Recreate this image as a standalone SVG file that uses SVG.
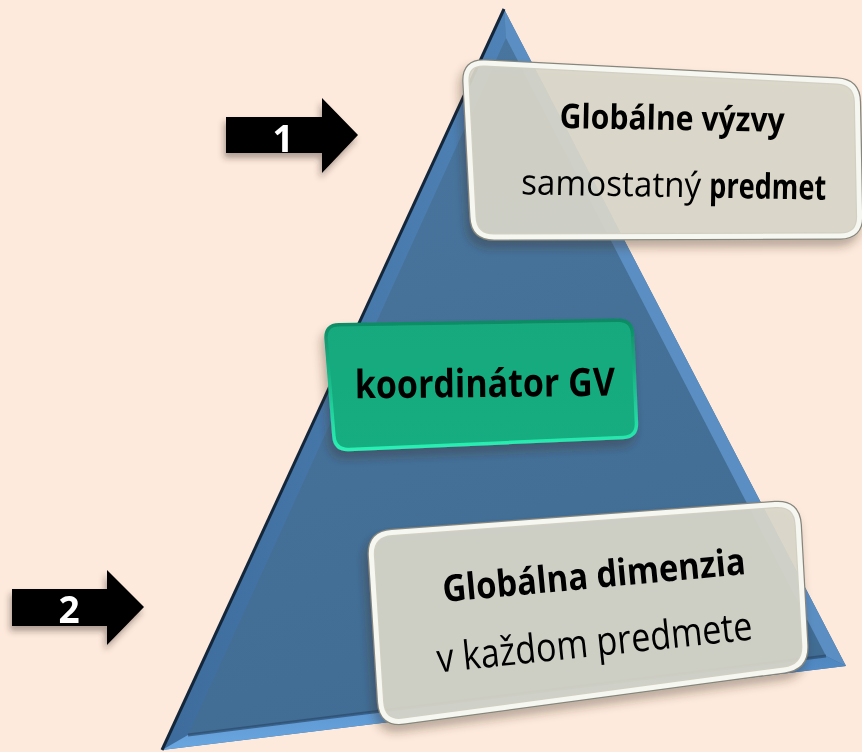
<svg xmlns="http://www.w3.org/2000/svg" width="862" height="752" viewBox="0 0 862 752">
<defs>
<filter id="sh" x="-20%" y="-20%" width="140%" height="150%">
<feDropShadow dx="-3" dy="7" stdDeviation="5" flood-color="#3a2a20" flood-opacity="0.35"/>
</filter>
<filter id="ash" x="-20%" y="-20%" width="140%" height="150%">
<feDropShadow dx="-2" dy="5" stdDeviation="3" flood-color="#3a2a20" flood-opacity="0.4"/>
</filter>
<linearGradient id="face" x1="0" y1="0" x2="0.3" y2="1">
<stop offset="0" stop-color="#4a77a0"/>
<stop offset="1" stop-color="#416c93"/>
</linearGradient>
<linearGradient id="leftF" x1="0" y1="0" x2="1" y2="0">
<stop offset="0" stop-color="#3d6c9c"/>
<stop offset="1" stop-color="#4f82b6"/>
</linearGradient>
<linearGradient id="botF" x1="0" y1="0" x2="0" y2="1">
<stop offset="0" stop-color="#4e86c0"/>
<stop offset="1" stop-color="#6aa6e0"/>
</linearGradient>
<linearGradient id="greenF" x1="0" y1="0" x2="0" y2="1">
<stop offset="0" stop-color="#15a97d"/>
<stop offset="1" stop-color="#13ad80"/>
</linearGradient>
<linearGradient id="greenS" x1="0" y1="0" x2="0" y2="1">
<stop offset="0" stop-color="#0e8a64"/>
<stop offset="1" stop-color="#2af0b4"/>
</linearGradient>
<style>
.box{fill:#dad8cb;fill-opacity:0.9;stroke:#f7f7f2;stroke-width:5}
.boxo{fill:none;stroke:#86867c;stroke-width:7.5}
.t{font-family:"Open Sans","Liberation Sans",sans-serif;fill:#000;text-anchor:middle}
.s{font-family:"Open Sans","Liberation Sans",sans-serif;fill:#000;text-anchor:start}
.b{font-weight:bold}
.num{font-family:"Open Sans","Liberation Sans",sans-serif;font-weight:bold;fill:#fff;text-anchor:middle;font-size:37px}
</style>
</defs>
<rect width="862" height="752" fill="#fdeadc"/>

<g id="pyramid">
<polygon points="504,9 846,666 162,750" fill="url(#face)"/>
<polygon points="504,9 506,38 188,735 162,750" fill="url(#leftF)"/>
<polygon points="504,9 846,666 826,656 506,38" fill="#5b8ec2"/>
<polygon points="162,750 188,735 826,656 846,666" fill="url(#botF)"/>
<line x1="188" y1="735" x2="826" y2="656" stroke="#2a4a6c" stroke-width="3" opacity="0.7"/>
<line x1="504" y1="9" x2="162" y2="750" stroke="#14263a" stroke-width="3"/>
</g>

<g id="arrow1" filter="url(#ash)">
<polygon points="226,117 322,117 322,98 358,135 322,173 322,153 226,153" fill="#000"/>
<text class="num" x="283" y="152">1</text>
</g>
<g id="arrow2" filter="url(#ash)">
<polygon points="12,589 107,589 107,570 144,607 107,645 107,626 12,626" fill="#000"/>
<text class="num" x="69" y="623">2</text>
</g>

<g id="box1" filter="url(#sh)">
<path class="boxo" d="M485,63 L837,81 Q857,82 857.4,102 L859.6,216 Q860,236 840,236 L494,237 Q474,237 473,217 L466,82 Q465,62 485,63 Z"/>
<path class="box" d="M485,63 L837,81 Q857,82 857.4,102 L859.6,216 Q860,236 840,236 L494,237 Q474,237 473,217 L466,82 Q465,62 485,63 Z"/>
<g transform="rotate(1 672 130)">
<text class="t b" x="672" y="130" font-size="34" textLength="225" lengthAdjust="spacingAndGlyphs">Globálne výzvy</text>
</g>
<g transform="rotate(1 673 197)">
<text class="s" x="521" y="197" font-size="35" textLength="180" lengthAdjust="spacingAndGlyphs">samostatný</text>
<text class="s b" x="709" y="197" font-size="35" textLength="117" lengthAdjust="spacingAndGlyphs">predmet</text>
</g>
</g>

<g id="box2" filter="url(#sh)">
<path d="M339,324.8 L618,320.2 Q632,320 632.6,334 L636.4,423 Q637,437 623,437.6 L349,449.4 Q335,450 333.9,436 L326.1,339 Q325,325 339,324.8 Z" fill="url(#greenF)" stroke="url(#greenS)" stroke-width="3.5"/>
<g transform="rotate(-0.6 485 397)">
<text class="t b" x="485" y="397" font-size="39" textLength="260" lengthAdjust="spacingAndGlyphs">koordinátor GV</text>
</g>
</g>

<g id="box3" filter="url(#sh)">
<path class="boxo" d="M391.9,532.4 L775.1,504.6 Q797,503 798.2,525 L804.8,645 Q806,667 784.2,669.9 L403.8,721.1 Q382,724 380.6,702 L371.4,556 Q370,534 391.9,532.4 Z"/>
<path class="box" d="M391.9,532.4 L775.1,504.6 Q797,503 798.2,525 L804.8,645 Q806,667 784.2,669.9 L403.8,721.1 Q382,724 380.6,702 L371.4,556 Q370,534 391.9,532.4 Z"/>
<g transform="rotate(-5.3 595 588)">
<text class="t b" x="595" y="588" font-size="37" textLength="304" lengthAdjust="spacingAndGlyphs">Globálna dimenzia</text>
</g>
<g transform="rotate(-6 596 656)">
<text class="t" x="596" y="656" font-size="40" textLength="317" lengthAdjust="spacingAndGlyphs">v každom predmete</text>
</g>
</g>
</svg>
